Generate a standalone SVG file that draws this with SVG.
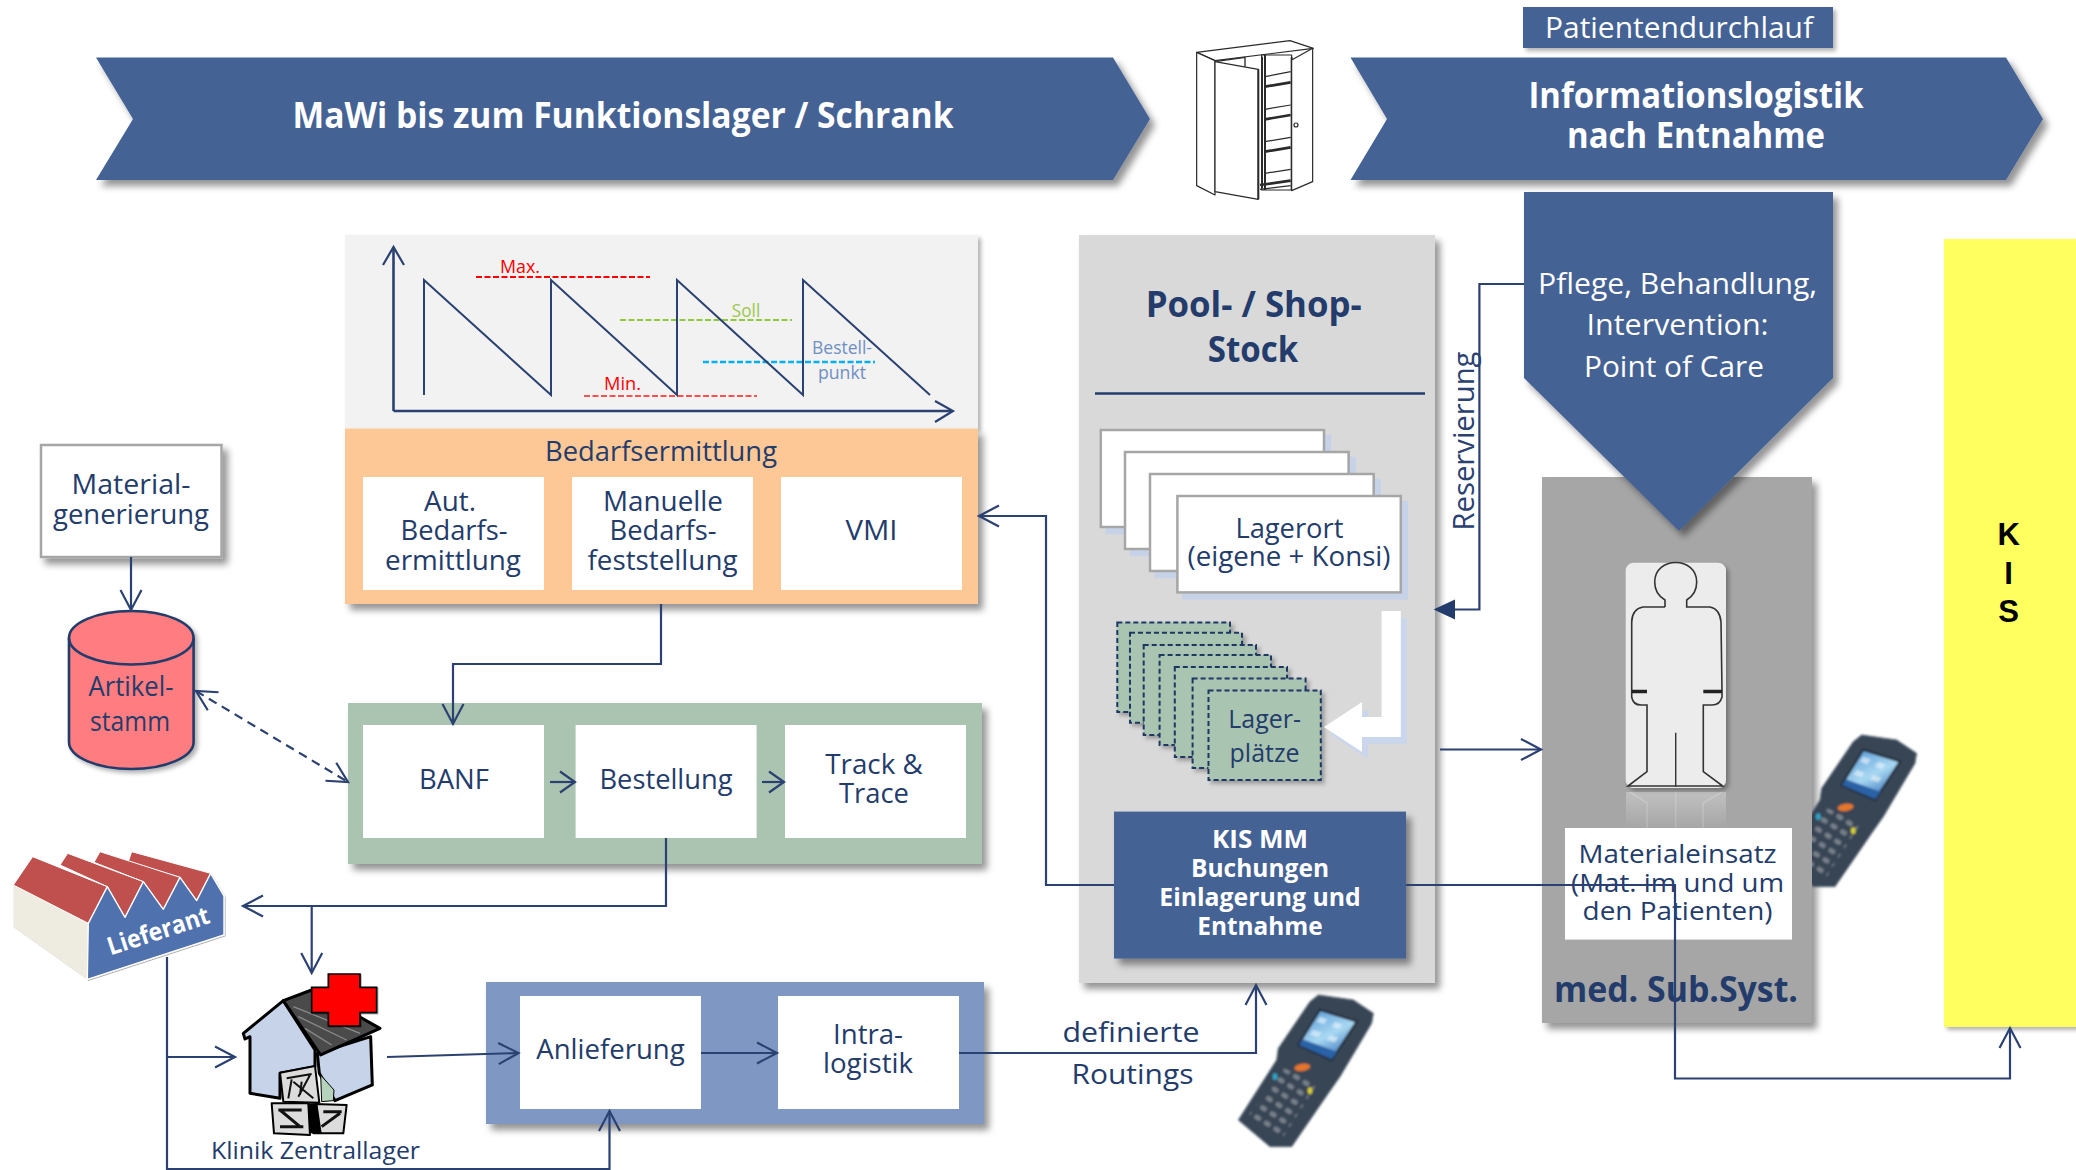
<svg xmlns="http://www.w3.org/2000/svg" width="2076" height="1170" viewBox="0 0 2076 1170">
<style>
text{font-family:"Open Sans","Noto Sans",sans-serif;text-anchor:middle;font-size:27.5px;fill:#233c6b}
.w{fill:#fff}
.b{font-weight:700}
.blue{fill:#456295}
.box{fill:#fff}
.c{fill:none;stroke:#2a4172;stroke-width:2.2}
.a{marker-end:url(#ah)}
.stack{fill:#fff;stroke:#a6a6a6;stroke-width:2.5;filter:url(#sl)}
.dash{fill:#a9c4b0;stroke:#1f3864;stroke-width:2;stroke-dasharray:5 3;filter:url(#ss)}
.cup{fill:#fff;stroke:#2a2a2a;stroke-width:3.6;stroke-linejoin:round}
.cupt{stroke:#2a2a2a;stroke-width:6;fill:none}
.hs{stroke:#000;stroke-width:9;stroke-linejoin:round}
.cr{fill:#dcdcdc;stroke:#000;stroke-width:6;stroke-linejoin:round}
.sc{stroke:#111;stroke-width:6;fill:none}
.pers{fill:none;stroke:#333;stroke-width:1.6}
</style>
<defs>
<filter id="sh" x="-10%" y="-10%" width="125%" height="125%"><feDropShadow dx="5" dy="6" stdDeviation="3.5" flood-color="#000" flood-opacity=".42"/></filter>
<filter id="ss" x="-10%" y="-10%" width="125%" height="125%"><feDropShadow dx="3" dy="3" stdDeviation="2" flood-color="#000" flood-opacity=".3"/></filter>
<filter id="sl" x="-10%" y="-10%" width="125%" height="125%"><feDropShadow dx="6" dy="6" stdDeviation="0.5" flood-color="#c5d2e8" flood-opacity="1"/></filter>
<filter id="soft" x="-5%" y="-5%" width="110%" height="110%"><feGaussianBlur stdDeviation="2.4"/></filter>
<marker id="ah" markerUnits="userSpaceOnUse" markerWidth="26" markerHeight="28" refX="22" refY="13" orient="auto-start-reverse"><path d="M2,2.5 L22,13 L2,23.5" fill="none" stroke="#2a4172" stroke-width="2.2"/></marker>
<marker id="ahs" markerUnits="userSpaceOnUse" markerWidth="18" markerHeight="26" refX="16" refY="13" orient="auto"><path d="M1,2.5 L16,13 L1,23.5" fill="none" stroke="#2a4172" stroke-width="2.2"/></marker>
<linearGradient id="scr" x1="0" y1="0" x2="0.6" y2="1"><stop offset="0" stop-color="#4d8ed2"/><stop offset=".6" stop-color="#a8d8f2"/><stop offset="1" stop-color="#3f78bd"/></linearGradient>
<linearGradient id="refl" x1="0" y1="0" x2="0" y2="1"><stop offset="0" stop-color="#fff" stop-opacity=".3"/><stop offset="1" stop-color="#fff" stop-opacity="0"/></linearGradient>
<pattern id="keys" width="34" height="33" patternUnits="userSpaceOnUse" patternTransform="rotate(32 190 360)"><rect x="6" y="10" width="22" height="14" rx="6" fill="#78818b"/></pattern>
<clipPath id="c2"><rect x="1812" y="700" width="120" height="220"/></clipPath>
<g id="scanner" filter="url(#soft)">
<path d="M295,45 L400,60 L460,100 L455,130 L360,290 L325,340 L215,500 L150,500 L55,420 L170,240 L175,205 L270,65 Z" fill="#394454" stroke="#5d6a78" stroke-width="3" stroke-linejoin="round"/>
<path d="M300,90 L410,125 L335,240 L235,195 Z" fill="url(#scr)" stroke="#1f2730" stroke-width="6"/>
<path d="M248,178 L352,215 L335,238 L236,195 Z" fill="#2c62a6"/>
<path d="M300,110 l22,8 l-10,15 l-22,-8 Z M345,125 l22,8 l-10,15 l-22,-8 Z M280,150 l25,8 l-10,14 l-25,-8 Z M330,165 l25,8 l-10,14 l-25,-8 Z" fill="#dff0fa" opacity=".7"/>
<path d="M190,265 L295,305 L190,470 L75,420 Z" fill="url(#keys)"/>
<ellipse cx="247" cy="262" rx="24" ry="11" fill="#e5762c" transform="rotate(-8 247 262)"/>
<ellipse cx="165" cy="290" rx="7" ry="10" fill="#2aa7c9"/>
<ellipse cx="270" cy="332" rx="7" ry="10" fill="#d8d030"/>
</g>
</defs>

<g id="banner-left"><path class="blue" filter="url(#sh)" d="M96,57.5 H1113 L1150,119 L1113,180 H96 L133,119 Z"/>
<text class="w b" x="623" y="128" style="font-size:36px" textLength="661" lengthAdjust="spacingAndGlyphs">MaWi bis zum Funktionslager / Schrank</text></g>

<g id="schrank" transform="translate(1170 20) scale(.3333)">
<path class="cup" d="M80,97 L360,62 L430,85 L135,122 Z"/>
<path class="cup" d="M80,97 V497 L135,525 V122 Z"/>
<path class="cup" d="M275,105 H365 V510 H275 Z"/>
<path class="cup" d="M135,125 L265,148 V538 L135,515 Z"/>
<path class="cupt" d="M265,148 V538 M276,110 V505 M285,105 V510 M365,112 V510"/>
<path class="cup" d="M365,120 L428,85 V485 L365,512 Z"/>
<circle class="cup" cx="378" cy="315" r="6"/>
<path class="cup" d="M285,170 L362,155 M285,268 L362,255 M285,365 L362,352 M285,460 L362,448"/>
<path class="cupt" style="stroke-width:8" d="M285,200 L362,187 M285,298 L362,285 M285,395 L362,382 M270,495 L362,482"/>
<path class="cupt" style="stroke-width:4" d="M140,124 L225,112 M225,112 V140 M270,508 L362,497"/>
</g>

<g id="banner-right"><path class="blue" filter="url(#sh)" d="M1350.5,57.5 H2006 L2043,119 L2006,180 H1350.5 L1387,119 Z"/>
<text class="w b" x="1696" y="108" style="font-size:36px" textLength="335" lengthAdjust="spacingAndGlyphs">Informationslogistik</text>
<text class="w b" x="1696" y="148" style="font-size:36px" textLength="258" lengthAdjust="spacingAndGlyphs">nach Entnahme</text></g>

<g id="patientendurchlauf"><rect class="blue" filter="url(#ss)" x="1523" y="7" width="310" height="41"/>
<text class="w" x="1679" y="38" style="font-size:29px" textLength="268" lengthAdjust="spacingAndGlyphs">Patientendurchlauf</text></g>

<g id="chart">
<rect x="345" y="235" width="633" height="194" fill="#f2f2f2" filter="url(#ss)"/>
<path d="M476,277 H650" fill="none" stroke="#f00" stroke-width="2.2" stroke-dasharray="6 2.5"/>
<path d="M620,320 H792" fill="none" stroke="#92c83e" stroke-width="2.2" stroke-dasharray="6 2.5"/>
<path d="M703,362 H875" fill="none" stroke="#00b0f0" stroke-width="2.5" stroke-dasharray="6 2.5"/>
<path d="M584,396 H757" fill="none" stroke="#ff5050" stroke-width="2" stroke-dasharray="6 2.5"/>
<path d="M424,395 V280 L551,395 V280 L677,395 V280 L803,395 V280 L930,395" fill="none" stroke="#2a4172" stroke-width="2"/>
<path d="M393.5,411 V248 M393.5,411 H952" fill="none" stroke="#2a4172" stroke-width="2.6"/>
<path d="M383,265 L393.5,247 L404,265 M935,401 L953,411 L935,422" fill="none" stroke="#2a4172" stroke-width="2.2"/>
<text x="520" y="272.5" style="font-size:18px;fill:#f00" textLength="40" lengthAdjust="spacingAndGlyphs">Max.</text>
<text x="746" y="317" style="font-size:18px;fill:#9bc84a" textLength="28.5" lengthAdjust="spacingAndGlyphs">Soll</text>
<text x="842" y="354" style="font-size:18px;fill:#6f8fc4" textLength="60" lengthAdjust="spacingAndGlyphs">Bestell-</text>
<text x="842" y="379" style="font-size:18px;fill:#6f8fc4" textLength="48" lengthAdjust="spacingAndGlyphs">punkt</text>
<text x="622.5" y="390" style="font-size:18px;fill:#f00" textLength="37" lengthAdjust="spacingAndGlyphs">Min.</text>
</g>

<g id="bedarfsermittlung">
<rect x="345" y="428.6" width="633" height="175.4" fill="#fdc896" filter="url(#sh)"/>
<text x="661" y="461" textLength="232" lengthAdjust="spacingAndGlyphs">Bedarfsermittlung</text>
<rect class="box" x="363" y="477" width="181" height="113"/>
<rect class="box" x="572" y="477" width="181" height="113"/>
<rect class="box" x="781" y="477" width="181" height="113"/>
<text x="450" y="511" textLength="52" lengthAdjust="spacingAndGlyphs">Aut.</text>
<text x="454" y="540" textLength="107" lengthAdjust="spacingAndGlyphs">Bedarfs-</text>
<text x="453" y="569.5" textLength="136" lengthAdjust="spacingAndGlyphs">ermittlung</text>
<text x="663" y="511" textLength="120" lengthAdjust="spacingAndGlyphs">Manuelle</text>
<text x="663" y="540" textLength="107" lengthAdjust="spacingAndGlyphs">Bedarfs-</text>
<text x="662.5" y="569.5" textLength="150" lengthAdjust="spacingAndGlyphs">feststellung</text>
<text x="871.5" y="540" textLength="52" lengthAdjust="spacingAndGlyphs">VMI</text>
</g>

<g id="materialgenerierung">
<rect x="41" y="445" width="180.5" height="112" fill="#fff" stroke="#a6a6a6" stroke-width="2.5" filter="url(#sh)"/>
<text x="131" y="493.7" textLength="119" lengthAdjust="spacingAndGlyphs">Material-</text>
<text x="131" y="523.5" textLength="156" lengthAdjust="spacingAndGlyphs">generierung</text>
</g>

<g id="artikelstamm">
<path d="M69,638 A62.3,27 0 0 1 193.6,638 V742 A62.3,27 0 0 1 69,742 Z" fill="#ff7c80" stroke="#233c6b" stroke-width="2.6" filter="url(#ss)"/>
<path d="M69,638 A62.3,26.5 0 0 0 193.6,638" fill="none" stroke="#233c6b" stroke-width="2.6"/>
<text x="131" y="696" textLength="85" lengthAdjust="spacingAndGlyphs">Artikel-</text>
<text x="130" y="731" textLength="80" lengthAdjust="spacingAndGlyphs">stamm</text>
</g>

<g id="einkauf">
<rect x="348" y="703" width="634" height="161" fill="#aac4b1" filter="url(#sh)"/>
<rect class="box" x="363" y="725" width="181" height="113"/>
<rect class="box" x="575.6" y="725" width="181" height="113"/>
<rect class="box" x="785" y="725" width="181" height="113"/>
<text x="454" y="789" textLength="70" lengthAdjust="spacingAndGlyphs">BANF</text>
<text x="666" y="789" textLength="133" lengthAdjust="spacingAndGlyphs">Bestellung</text>
<text x="874" y="774" textLength="97.5" lengthAdjust="spacingAndGlyphs">Track &amp;</text>
<text x="874" y="803" textLength="70" lengthAdjust="spacingAndGlyphs">Trace</text>
</g>

<g id="lieferant" transform="translate(0 830) scale(.3333)">
<path d="M40,165 L265,280 L262,448 L40,290 Z" fill="#eeece1" filter="url(#ss)"/>
<g fill="#c0504d" stroke="#fff" stroke-width="3" stroke-linejoin="round">
<path d="M385,95 L395,65 L632,130 L590,212 L540,142 Z"/>
<path d="M282,97 L300,65 L540,142 L490,238 L430,155 Z"/>
<path d="M180,105 L203,70 L430,155 L375,262 L322,170 Z"/>
<path d="M40,165 L98,80 L322,170 L265,280 Z"/>
</g>
<path d="M265,280 L322,170 L375,262 L430,155 L490,238 L540,142 L590,212 L632,130 L672,198 V315 L262,448 Z" fill="#4f72ae" stroke="#fff" stroke-width="4" stroke-linejoin="round" filter="url(#ss)"/>
</g>
<text id="lieferant-label" class="w b" transform="translate(161 939) rotate(-18)" style="font-size:25px" textLength="106" lengthAdjust="spacingAndGlyphs">Lieferant</text>

<g id="zentrallager">
<g transform="translate(230 970) scale(.3333)">
<path class="hs" d="M40,190 L160,92 L255,240 V290 L150,310 V385 L60,370 V200 L45,207 Z" fill="#c6d3e8"/>
<path class="hs" d="M262,250 L422,200 L427,345 L315,392 L268,310 Z" fill="#c6d3e8"/>
<path class="hs" d="M160,92 L245,60 L450,175 L272,255 Z" fill="#4a4a4a"/>
<path d="M190,110 L390,190 M205,140 L350,210 M225,175 L305,225" stroke="#8a8a8a" stroke-width="4" fill="none"/>
<path d="M272,315 L312,360 L310,392 L275,395 Z" fill="#b5d3bb" stroke="#000" stroke-width="3"/>
<path class="cr" d="M150,308 L255,288 L268,398 L160,395 Z"/>
<path class="sc" d="M170,325 L245,312 M175,385 L185,328 M190,335 L250,385 M240,315 L205,380 M215,335 L210,375"/>
<path class="cr" d="M125,400 H235 L240,495 L132,490 Z"/>
<path class="cr" d="M255,402 L350,405 L340,490 L250,490 Z"/>
<path class="sc" style="stroke-width:9" d="M145,420 H215 M150,420 L210,470 M150,470 H220 M280,425 H335 M330,430 L275,470"/>
<path d="M233,400 H262 L275,490 H240 Z" fill="#000"/>
<path d="M295,12 H390 V52 H440 V128 H390 V168 H295 V128 H245 V52 H295 Z" fill="#f00" stroke="#000" stroke-width="5" filter="url(#ss)"/>
</g>
<text x="315.5" y="1159" style="font-size:24.5px" textLength="209" lengthAdjust="spacingAndGlyphs">Klinik Zentrallager</text>
</g>

<g id="anlieferung">
<rect x="486" y="982" width="498" height="142" fill="#7f98c3" filter="url(#sh)"/>
<rect class="box" x="520" y="996" width="181" height="113"/>
<rect class="box" x="778" y="996" width="181" height="113"/>
<text x="610.5" y="1059" textLength="148.5" lengthAdjust="spacingAndGlyphs">Anlieferung</text>
<text x="868" y="1044" textLength="70" lengthAdjust="spacingAndGlyphs">Intra-</text>
<text x="868" y="1073" textLength="90" lengthAdjust="spacingAndGlyphs">logistik</text>
</g>

<g id="routing-label">
<text x="1131" y="1042" textLength="137" lengthAdjust="spacingAndGlyphs">definierte</text>
<text x="1132.5" y="1084" textLength="122" lengthAdjust="spacingAndGlyphs">Routings</text>
</g>

<g id="scanner-pool" transform="translate(1220 980) scale(.3333)"><use href="#scanner"/></g>

<g id="pool-stock">
<rect x="1079" y="235" width="356" height="748" fill="#d9d9d9" filter="url(#sh)"/>
<text class="b" x="1253.7" y="317" style="font-size:35px" textLength="216" lengthAdjust="spacingAndGlyphs">Pool- / Shop-</text>
<text class="b" x="1253" y="361.6" style="font-size:35px" textLength="90.5" lengthAdjust="spacingAndGlyphs">Stock</text>
<path d="M1095,393.5 H1425" stroke="#233c6b" stroke-width="2.4"/>
</g>

<g id="lagerort">
<rect class="stack" x="1100.8" y="430" width="223.2" height="97"/>
<rect class="stack" x="1125" y="452" width="223.6" height="97"/>
<rect class="stack" x="1150" y="474" width="223.7" height="97"/>
<rect class="stack" x="1177.4" y="496" width="223.4" height="96.4"/>
<text x="1289.4" y="537.7" textLength="108" lengthAdjust="spacingAndGlyphs">Lagerort</text>
<text x="1289" y="566" textLength="203" lengthAdjust="spacingAndGlyphs">(eigene + Konsi)</text>
</g>

<g id="lagerplaetze">
<rect class="dash" x="1117.3" y="622.5" width="112.7" height="89.5"/>
<rect class="dash" x="1130" y="632.7" width="112" height="90"/>
<rect class="dash" x="1143.7" y="645" width="112.3" height="90"/>
<rect class="dash" x="1159.6" y="655" width="111.4" height="90"/>
<rect class="dash" x="1174.8" y="667" width="112.2" height="90"/>
<rect class="dash" x="1192.6" y="678.5" width="113" height="89.5"/>
<rect class="dash" x="1208.5" y="690.5" width="112.3" height="89.5"/>
<text x="1264.6" y="728" style="font-size:25px" textLength="72.7" lengthAdjust="spacingAndGlyphs">Lager-</text>
<text x="1264.6" y="762" style="font-size:25px" textLength="70" lengthAdjust="spacingAndGlyphs">plätze</text>
</g>

<g id="einlagerung-pfeil">
<path d="M1387,618 H1406.8 V744 H1368 V759 L1330,734 L1368,709 V724 H1387 Z" fill="#c9d6ec"/>
<path d="M1381.6,611 H1400.8 V737 H1362 V752 L1324,727 L1362,702 V717 H1381.6 Z" fill="#fff"/>
</g>

<g id="kis-mm">
<rect x="1114" y="811.6" width="292" height="147" fill="#456295" filter="url(#sh)"/>
<text class="w b" x="1260" y="848" style="font-size:25px" textLength="96" lengthAdjust="spacingAndGlyphs">KIS MM</text>
<text class="w b" x="1260" y="877" style="font-size:25px" textLength="138" lengthAdjust="spacingAndGlyphs">Buchungen</text>
<text class="w b" x="1260" y="906" style="font-size:25px" textLength="201.5" lengthAdjust="spacingAndGlyphs">Einlagerung und</text>
<text class="w b" x="1260" y="935" style="font-size:25px" textLength="125.5" lengthAdjust="spacingAndGlyphs">Entnahme</text>
</g>

<g id="med-subsyst">
<rect x="1542" y="477" width="270" height="546" fill="#a6a6a6" filter="url(#sh)"/>
<rect x="1625.7" y="562.7" width="100.3" height="225.3" rx="8" fill="#ececec" filter="url(#ss)"/>
<rect x="1626" y="792" width="100" height="36" fill="url(#refl)"/>
<path d="M1630,792 L1647,803 V828 M1675.7,792 V828 M1722,792 L1703,803 V828" fill="none" stroke="#fff" stroke-opacity=".18" stroke-width="1.5"/>
<path class="pers" d="M1665,607 V600 Q1654.7,594 1654.7,582 C1654.7,556 1696.7,556 1696.7,582 Q1696.7,594 1686.7,600 V607 H1710 Q1720,609 1721,622 L1722,690 M1665,607 H1643 Q1632,609 1631.7,622 V690 V697 Q1633,705 1641,705 H1647 V771.7 L1628,786 H1722.7 L1703.3,771.7 V705 H1712 Q1720,705 1722,697 V690"/>
<path d="M1631.7,691.5 H1647 M1703.3,691.5 H1722" stroke="#222" stroke-width="3.4"/>
<path d="M1675.7,732.7 V786.7" stroke="#333" stroke-width="1.4"/>
<rect x="1565" y="828" width="227" height="111.6" fill="#fff"/>
<text x="1677.6" y="862.5" style="font-size:26px" textLength="198" lengthAdjust="spacingAndGlyphs">Materialeinsatz</text>
<text x="1677.6" y="891.6" style="font-size:26px" textLength="213" lengthAdjust="spacingAndGlyphs">(Mat. im und um</text>
<text x="1677.6" y="920" style="font-size:26px" textLength="190" lengthAdjust="spacingAndGlyphs">den Patienten)</text>
<text class="b" x="1676" y="1002" style="font-size:35px" textLength="244" lengthAdjust="spacingAndGlyphs">med. Sub.Syst.</text>
</g>

<g id="scanner-med" clip-path="url(#c2)"><g transform="translate(1763.3 720) scale(.3333)"><use href="#scanner"/></g></g>

<g id="point-of-care">
<path class="blue" filter="url(#sh)" d="M1524,192 H1833 V378 L1679,531 L1524,378 Z"/>
<text class="w" x="1677.6" y="294" style="font-size:30px" textLength="279" lengthAdjust="spacingAndGlyphs">Pflege, Behandlung,</text>
<text class="w" x="1677.6" y="335" style="font-size:30px" textLength="182" lengthAdjust="spacingAndGlyphs">Intervention:</text>
<text class="w" x="1674" y="377" style="font-size:30px" textLength="180" lengthAdjust="spacingAndGlyphs">Point of Care</text>
</g>

<g id="kis">
<rect x="1944" y="239" width="140" height="788" fill="#ffff5f" filter="url(#ss)"/>
<text x="2008.6" y="545" style="font-family:'Liberation Sans',sans-serif;font-weight:700;font-size:31px;fill:#000">K</text>
<text x="2008.6" y="584" style="font-family:'Liberation Sans',sans-serif;font-weight:700;font-size:31px;fill:#000">I</text>
<text x="2008.6" y="622" style="font-family:'Liberation Sans',sans-serif;font-weight:700;font-size:31px;fill:#000">S</text>
</g>

<text id="reservierung" transform="translate(1474.3 441) rotate(-90)" style="font-size:30px;fill:#2a4172" textLength="179" lengthAdjust="spacingAndGlyphs">Reservierung</text>

<g id="connectors">
<path class="c a" d="M131,557 V610"/>
<path class="c a" d="M661,604 V664 H453 V724"/>
<path class="c" style="marker-end:url(#ahs)" d="M550,782 H575"/>
<path class="c" style="marker-end:url(#ahs)" d="M762,782 H784"/>
<path class="c a" style="stroke-dasharray:9 6;marker-start:url(#ah)" d="M196,691 L348,782"/>
<path class="c a" d="M666,838 V906 H243"/>
<path class="c a" d="M311.7,906 V973"/>
<path class="c a" d="M167,957 V1169 H609.5 V1111"/>
<path class="c a" d="M167,1057 H235"/>
<path class="c a" d="M387,1057 L518.5,1053"/>
<path class="c a" d="M701,1053 H777"/>
<path class="c a" d="M959,1053 H1256 V985"/>
<path class="c a" d="M1114,885 H1046 V516 H979"/>
<path class="c a" d="M1406,885 H1675 V1078.5 H2010 V1028"/>
<path class="c a" d="M1440,749.5 H1541"/>
<path class="c" d="M1524,284 H1479.4 V609.5 H1450"/>
<path d="M1436,609.5 L1454,601 V618 Z" fill="#233c6b" stroke="#233c6b" stroke-width="2"/>
</g>
</svg>
